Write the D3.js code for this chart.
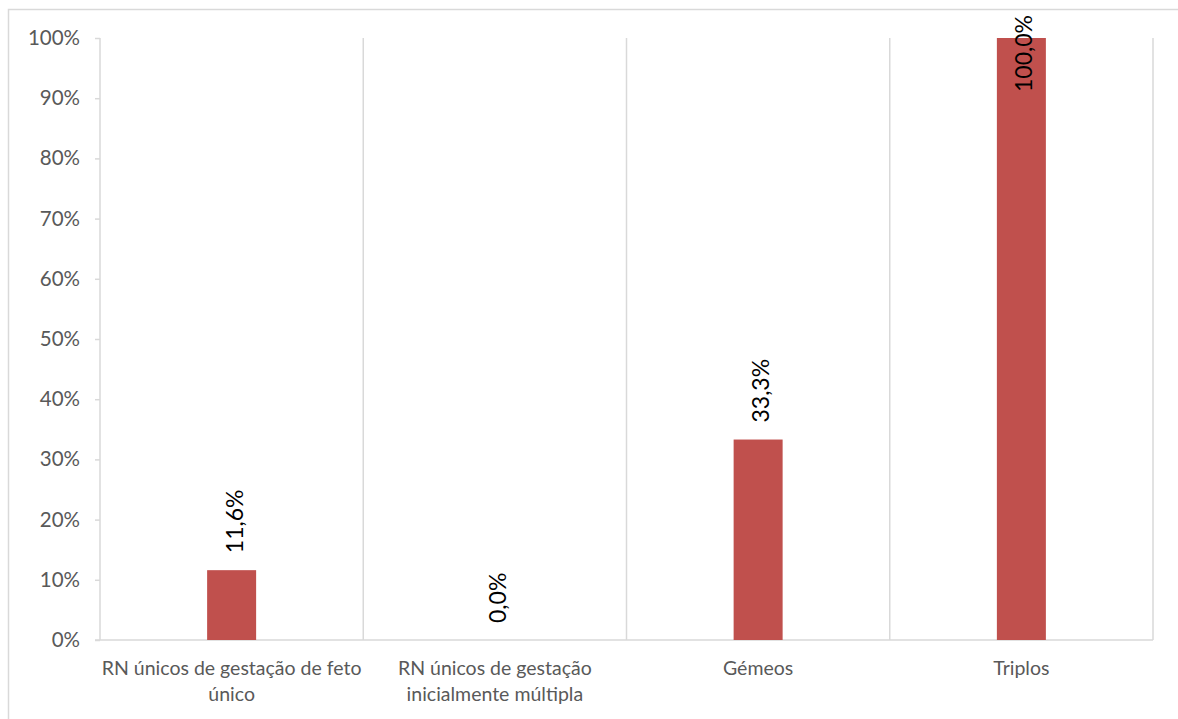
<!DOCTYPE html>
<html><head><meta charset="utf-8">
<script src="https://cdn.jsdelivr.net/npm/d3@7"></script>
<style>body{margin:0;background:#fff}svg{display:block}text{font-family:Lato,"Open Sans",sans-serif}</style>
</head><body><svg id="c" width="1178" height="719"></svg>
<script>
const categories = ["RN únicos de gestação de feto único","RN únicos de gestação inicialmente múltipla","Gémeos","Triplos"];
const values = [0.116, 0.0, 0.333, 1.0];
const labels = ["11,6%","0,0%","33,3%","100,0%"];
const yTicks = [0,0.1,0.2,0.3,0.4,0.5,0.6,0.7,0.8,0.9,1.0];
const yTickLabels = ["0%","10%","20%","30%","40%","50%","60%","70%","80%","90%","100%"];

const svg = d3.select("#c");
const W = 1178, H = 719;
const m = {l:100, r:1153, t:38, b:640};
svg.append("rect").attr("x",8.5).attr("y",9.5).attr("width",W).attr("height",H).attr("fill","none").attr("stroke","#d9d9d9").attr("stroke-width",1.5);

const x = d3.scaleBand().domain(categories).range([m.l,m.r]).paddingInner(0).paddingOuter(0);
const y = d3.scaleLinear().domain([0,1]).range([m.b,m.t]);

const bounds = categories.map(c=>x(c)).concat([m.r]);
svg.selectAll(".vg").data(bounds).enter().append("line")
  .attr("x1",d=>d).attr("x2",d=>d).attr("y1",m.t).attr("y2",m.b)
  .attr("stroke","#d9d9d9").attr("stroke-width",1.5);

const yAxis = d3.axisLeft(y).tickValues(yTicks).tickFormat((d,i)=>yTickLabels[i]).tickSize(5).tickPadding(15);
const ga = svg.append("g").attr("transform",`translate(${m.l},0)`).call(yAxis);
ga.select(".domain").remove();
ga.selectAll(".tick line").attr("stroke","#d9d9d9").attr("stroke-width",1.5);
ga.selectAll(".tick text").attr("fill","#595959").style("font-size","20.5px").style("font-family","Lato,sans-serif");

svg.append("line").attr("x1",m.l-5).attr("x2",m.r).attr("y1",m.b).attr("y2",m.b).attr("stroke","#d9d9d9").attr("stroke-width",1.5);

const bw = 49;
svg.selectAll(".bar").data(values).enter().append("rect")
  .attr("x",(d,i)=>x(categories[i])+x.bandwidth()/2-bw/2)
  .attr("width",bw)
  .attr("y",d=>y(d))
  .attr("height",d=>m.b-y(d))
  .attr("fill","#c0504d");

svg.selectAll(".vl").data(values).enter().append("text")
  .text((d,i)=>labels[i])
  .style("font-size","23px").attr("fill","#000")
  .each(function(d,i){
    const len = this.getComputedTextLength();
    let start = y(d) - 17;
    if (start - len < 15) start = 15 + len;
    const cx = x(categories[i]) + x.bandwidth()/2 + 3;
    d3.select(this).attr("transform",`translate(${cx},${start}) rotate(-90)`).attr("dy","0.35em");
  });

const maxW = 266;
categories.forEach((c,i)=>{
  const cx = x(c)+x.bandwidth()/2;
  const t = svg.append("text").attr("x",cx).attr("y",675).attr("text-anchor","middle")
    .attr("fill","#595959").style("font-size","19.5px");
  const words = c.split(" ");
  let lines=[], cur=[];
  const tmp = t.append("tspan");
  words.forEach(w=>{
    cur.push(w); tmp.text(cur.join(" "));
    if (tmp.node().getComputedTextLength()>maxW && cur.length>1){ cur.pop(); lines.push(cur.join(" ")); cur=[w]; }
  });
  lines.push(cur.join(" "));
  tmp.remove();
  lines.forEach((l,j)=>t.append("tspan").attr("x",cx).attr("dy",j?26:0).text(l));
});
</script></body></html>
